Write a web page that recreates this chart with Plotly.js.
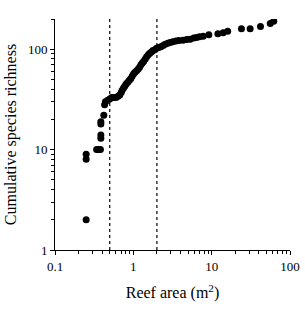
<!DOCTYPE html>
<html>
<head>
<meta charset="utf-8">
<script src="https://cdn.plot.ly/plotly-3.0.1.min.js"></script>
<style>html,body{margin:0;padding:0;background:#fff;}#chart{width:305px;height:309px;}</style>
</head>
<body>
<div id="chart"></div>
<script>
// Reef area (m^2) and cumulative species richness
const reefArea = [0.25, 0.25, 0.25, 0.34, 0.36, 0.38, 0.385, 0.385, 0.385, 0.385, 0.42,
  0.43, 0.44, 0.47, 0.50, 0.53, 0.56, 0.60, 0.64, 0.67, 0.70, 0.72, 0.75, 0.78, 0.81,
  0.85, 0.89, 0.93, 0.97, 1.01, 1.05, 1.10, 1.15, 1.20, 1.25, 1.30, 1.36, 1.42, 1.48,
  1.55, 1.62, 1.70, 1.78, 1.88, 1.98, 2.10, 2.25, 2.40, 2.55, 2.75, 2.95, 3.2, 3.5,
  3.8, 4.3, 4.8, 5.3, 5.9, 6.4, 7.0, 7.8, 9.2, 12.0, 14.0, 16.0, 24, 31, 42, 56, 62];
const richness = [2, 8, 9, 10, 10, 10, 13, 14, 18, 19, 22,
  28, 30, 31, 32, 33, 33, 33, 34, 35, 37, 39, 41, 43, 45,
  47, 49, 51, 54, 57, 59, 61, 63, 66, 70, 73, 76, 80, 84,
  88, 91, 94, 97, 99, 102, 104, 106, 109, 112, 115, 117, 119, 121,
  122, 123, 125, 126, 129, 131, 133, 135, 139, 143, 146, 151, 160, 160, 168, 180, 190];
const thresholds = [0.5, 2];
const xTicks = [0.1, 1, 10, 100];
const xTickText = ['0.1', '1', '10', '100'];
const yTicks = [1, 10, 100];
const yTickText = ['1', '10', '100'];

function minorVals(lo, hi) {
  const v = [];
  for (let d = lo; d < hi; d *= 10) for (let k = 2; k <= 9; k++) v.push(d * k);
  return v;
}

const font = {family: '"Liberation Serif", "Times New Roman", serif', color: '#000'};

const traces = [{
  x: reefArea, y: richness, type: 'scatter', mode: 'markers',
  marker: {color: '#000', size: 7}, hoverinfo: 'skip'
}];

const shapes = thresholds.map(t => ({
  type: 'line', xref: 'x', yref: 'paper', x0: t, x1: t, y0: 0, y1: 1,
  line: {color: '#000', width: 1.2, dash: 'dot'}
}));

const layout = {
  width: 305, height: 309,
  margin: {l: 55, r: 15, t: 19, b: 59},
  paper_bgcolor: '#fff', plot_bgcolor: '#fff',
  showlegend: false,
  font: Object.assign({size: 13}, font),
  shapes: shapes,
  xaxis: {
    type: 'log', range: [-1, 2], tickmode: 'array', tickvals: xTicks, ticktext: xTickText,
    showgrid: false, zeroline: false, showline: true, linecolor: '#000', linewidth: 1,
    ticks: 'outside', ticklen: 4, tickcolor: '#000',
    minor: {tickmode: 'array', tickvals: minorVals(0.1, 100), ticks: 'outside', ticklen: 3, tickcolor: '#000', showgrid: false},
    tickfont: Object.assign({size: 13}, font),
    title: {text: 'Reef area (m<sup>2</sup>)', font: Object.assign({size: 16}, font), standoff: 14}
  },
  yaxis: {
    type: 'log', range: [0, Math.log10(200)], tickmode: 'array', tickvals: yTicks, ticktext: yTickText,
    showgrid: false, zeroline: false, showline: true, linecolor: '#000', linewidth: 1,
    ticks: 'outside', ticklen: 4, tickcolor: '#000',
    minor: {tickmode: 'array', tickvals: minorVals(1, 1000).filter(v => v <= 200), ticks: 'outside', ticklen: 3, tickcolor: '#000', showgrid: false},
    tickfont: Object.assign({size: 13}, font),
    title: {text: 'Cumulative species richness', font: Object.assign({size: 16}, font), standoff: 7}
  }
};

Plotly.newPlot('chart', traces, layout, {displayModeBar: false, staticPlot: true});
</script>
</body>
</html>
